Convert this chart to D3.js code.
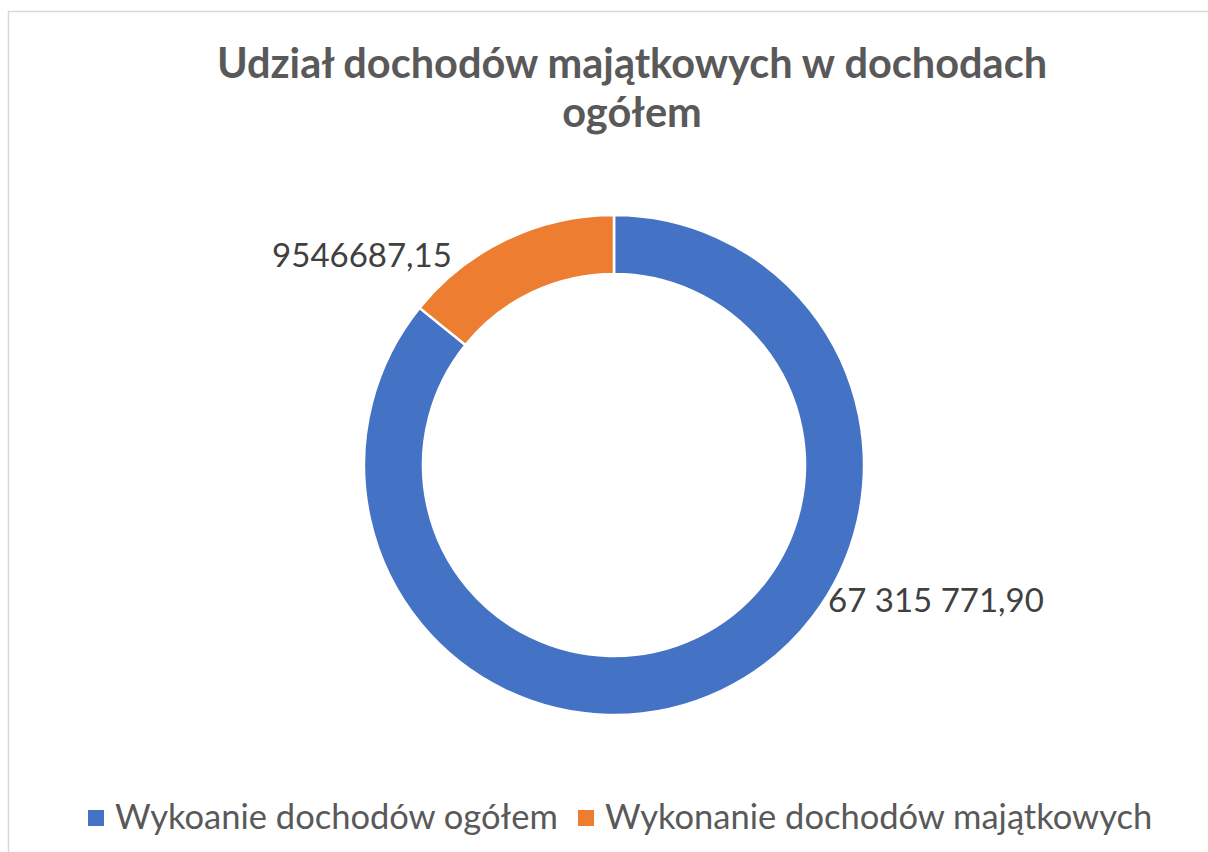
<!DOCTYPE html>
<html><head><meta charset="utf-8">
<script src="https://cdn.jsdelivr.net/npm/d3@7"></script>
<style>html,body{margin:0;padding:0;background:#fff;overflow:hidden}</style>
</head><body>
<svg id="c" width="1208" height="852"></svg>
<script>
const categories = ["Wykoanie dochodów ogółem", "Wykonanie dochodów majątkowych"];
const values = [67315771.90, 9546687.15];
const labelTexts = ["67 315 771,90", "9546687,15"];
const colors = ["#4472C4", "#ED7D31"];
const titleLines = ["Udział dochodów majątkowych w dochodach", "ogółem"];

const svg = d3.select("#c");
svg.append("rect").attr("x",8.5).attr("y",11.5).attr("width",1300).attr("height",900)
  .attr("fill","#fff").attr("stroke","#d9d9d9").attr("stroke-width",1.5);

const font = "Lato, 'Open Sans', sans-serif";
svg.append("text").attr("x",632).attr("y",78).attr("text-anchor","middle")
  .attr("font-family",font).attr("font-weight","bold").attr("font-size",41.5).attr("fill","#595959")
  .selectAll("tspan").data(titleLines).join("tspan")
  .attr("x",632).attr("dy",(d,i)=>i?49:0).text(d=>d);

const cx = 614, cy = 465, R = 250, r = 191;
// The chart shows the property-income share within total income:
// the blue ring is the remainder of the total after the orange part.
const sliceData = [
  {cat: categories[0], v: values[0] - values[1], label: labelTexts[0], color: colors[0]},
  {cat: categories[1], v: values[1], label: labelTexts[1], color: colors[1]}
];
const pie = d3.pie().sort(null).value(d=>d.v);
const arc = d3.arc().innerRadius(r).outerRadius(R);
const g = svg.append("g").attr("transform",`translate(${cx},${cy})`);
const arcs = pie(sliceData);
g.selectAll("path").data(arcs).join("path")
  .attr("d",arc).attr("fill",d=>d.data.color).attr("stroke","#fff").attr("stroke-width",2.5);

// data labels (manually placed in the source chart)
const labelPos = [{x:936, y:612}, {x:362, y:267}];
svg.selectAll("text.lbl").data(arcs).join("text").attr("class","lbl")
  .attr("x",(d,i)=>labelPos[i].x).attr("y",(d,i)=>labelPos[i].y)
  .attr("text-anchor","middle").attr("font-family",font).attr("font-size",33)
  .attr("fill","#404040").text(d=>d.data.label);

// legend
const legX = [88, 578];
const leg = svg.selectAll("g.leg").data(sliceData).join("g").attr("class","leg")
  .attr("transform",(d,i)=>`translate(${legX[i]},0)`);
leg.append("rect").attr("x",0).attr("y",810).attr("width",16).attr("height",16).attr("fill",d=>d.color);
leg.append("text").attr("x",27).attr("y",829).attr("font-family",font).attr("font-size",34.5)
  .attr("fill","#595959").text(d=>d.cat);
</script>
</body></html>
